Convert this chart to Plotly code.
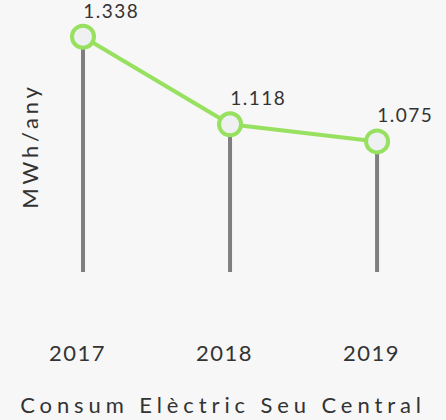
import plotly.graph_objects as go

years = ["2017", "2018", "2019"]
consum = [1.338, 1.118, 1.075]
value_labels = ["1.338", "1.118", "1.075"]
y_title = "MWh/any"
x_title = "Consum Elèctric Seu Central"

xpos = list(range(len(years)))
Y_MIN, Y_MAX = 0.747, 1.380
GREEN = "#98e060"
GRAY = "#7f7f7f"
BG = "#f7f7f7"
FONT = "Lato, 'Open Sans', sans-serif"
TXT = "#333333"

fig = go.Figure()

# stems
for xp, v in zip(xpos, consum):
    fig.add_trace(go.Scatter(
        x=[xp, xp], y=[Y_MIN, v], mode="lines",
        line=dict(color=GRAY, width=4), hoverinfo="skip", showlegend=False))

# line + markers
fig.add_trace(go.Scatter(
    x=xpos, y=consum, mode="lines+markers",
    line=dict(color=GREEN, width=4),
    marker=dict(size=22, color="#eef0f2", line=dict(color=GREEN, width=4)),
    showlegend=False))

# value labels
for xp, v, t in zip(xpos, consum, value_labels):
    fig.add_annotation(x=xp, y=v, xref="x", yref="y", text=t, showarrow=False,
                       xanchor="left", yanchor="bottom", xshift=2, yshift=13,
                       font=dict(family=FONT, size=19, color=TXT))

# category labels under the stems
for xp, yr in zip(xpos, years):
    fig.add_annotation(x=xp, y=0, xref="x", yref="paper", text=yr,
                       showarrow=False, xanchor="center", yanchor="middle",
                       xshift=-6, yshift=-80,
                       font=dict(family=FONT, size=22, color=TXT))

fig.update_layout(
    width=446, height=420,
    margin=dict(l=50, r=16, t=20, b=148, autoexpand=False),
    paper_bgcolor=BG, plot_bgcolor=BG,
    font=dict(family=FONT, color=TXT),
    title=dict(text=x_title, x=0.5, xref="container", xanchor="center",
               y=0.036, yref="container", yanchor="middle",
               font=dict(family=FONT, size=22, color=TXT)),
    xaxis=dict(range=[-0.2245, 2.36], showgrid=False,
               zeroline=False, showline=False, ticks="",
               showticklabels=False, automargin=False),
    yaxis=dict(range=[Y_MIN, Y_MAX], showgrid=False, zeroline=False,
               showline=False, showticklabels=False, ticks="",
               automargin=False,
               title=dict(text=y_title, standoff=4,
                          font=dict(family=FONT, size=22, color=TXT))),
)

post = """
var s = document.createElement('style');
s.textContent = 'body{margin:0;overflow:hidden}' +
  '.gtitle{letter-spacing:4.9px}' +
  '.ytitle{letter-spacing:3.8px}' +
  '.annotation-text{letter-spacing:1.5px}';
document.head.appendChild(s);
"""
fig.write_html("out.html", post_script=post, config={"displayModeBar": False})
